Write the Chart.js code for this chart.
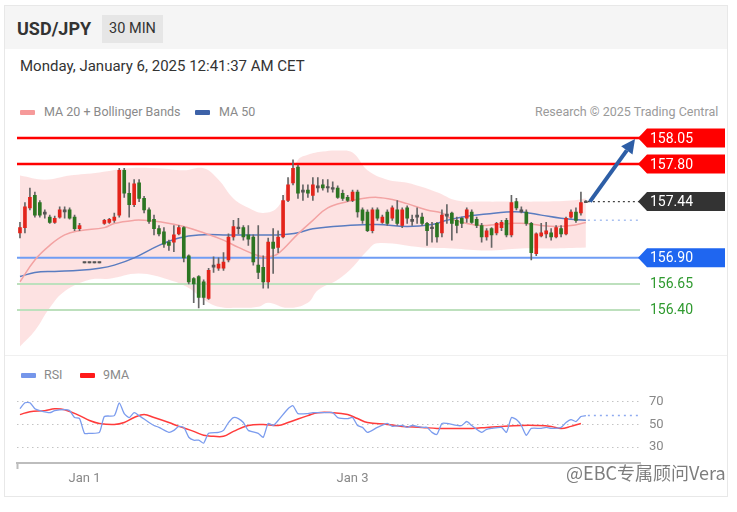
<!DOCTYPE html>
<html>
<head>
<meta charset="utf-8">
<script src="https://cdn.jsdelivr.net/npm/chart.js@4.4.1/dist/chart.umd.min.js"></script>
<style>
  body { margin: 0; background: #fff; font-family: Roboto, "Liberation Sans", Arial, sans-serif; }
  .abs { position: absolute; }
  #card { left: 4px; top: 5px; width: 724px; height: 492px; border: 1px solid #e8e8e8; box-sizing: border-box; }
  #head { left: 5px; top: 6px; width: 722px; height: 43px; background: #f5f5f5; }
  #title { left: 17px; top: 18px; font-size: 18px; font-weight: bold; color: #333; }
  #tf { left: 102px; top: 15px; width: 61px; height: 28px; background: #e6e6e6; color: #333; font-size: 14.5px; line-height: 28px; text-align: center; }
  #date { left: 20px; top: 57px; font-size: 15px; color: #333; }
  .leg { font-size: 12.5px; color: #8a8a8a; line-height: 14px; }
  .sw { width: 15px; height: 5px; border-radius: 1px; }
  #sep { left: 5px; top: 355px; width: 722px; height: 1px; background: #f0f0f0; }
  #wm { left: 566px; top: 459px; font-family: "Noto Sans CJK SC", sans-serif; font-size: 18px; color: #7d7d7d; text-shadow: 0 0 2px #fff, 0 0 2px #fff; }
</style>
</head>
<body>
<div id="card" class="abs"></div>
<div id="head" class="abs"></div>
<div id="title" class="abs">USD/JPY</div>
<div id="tf" class="abs">30 MIN</div>
<div id="date" class="abs">Monday, January 6, 2025 12:41:37 AM CET</div>

<div class="abs sw" style="left:20px;top:110px;background:#f69a9a"></div>
<div class="abs leg" style="left:44px;top:105px">MA 20 + Bollinger Bands</div>
<div class="abs sw" style="left:195px;top:110px;background:#3d62a8"></div>
<div class="abs leg" style="left:219px;top:105px">MA 50</div>
<div class="abs leg" style="left:535px;top:105px;color:#9a9a9a">Research © 2025 Trading Central</div>

<div id="sep" class="abs"></div>
<div class="abs sw" style="left:21px;top:373px;background:#7596ea"></div>
<div class="abs leg" style="left:44px;top:368px">RSI</div>
<div class="abs sw" style="left:80px;top:373px;background:#ff1a1a"></div>
<div class="abs leg" style="left:103px;top:368px">9MA</div>

<canvas id="price" class="abs" style="left:0;top:120px" width="737" height="236"></canvas>
<canvas id="rsi" class="abs" style="left:0;top:380px" width="737" height="110"></canvas>
<div id="wm" class="abs">@EBC专属顾问Vera</div>

<script>
// candles, 30 min, index 0 = first bar on the left
const open = [157.14,157.19,157.38,157.50,157.43,157.34,157.29,157.24,157.29,157.36,
  157.36,157.29,157.18,156.85,156.85,156.85,156.85,157.23,157.24,157.26,
  157.31,157.74,157.52,157.41,157.62,157.47,157.36,157.27,157.18,157.15,
  157.05,157.05,157.13,157.19,156.92,156.70,156.72,156.67,156.51,156.81,
  156.80,156.80,156.88,157.10,157.18,157.19,157.12,157.10,156.83,156.81,
  156.67,157.05,157.00,157.10,157.45,157.62,157.77,157.55,157.55,157.50,
  157.57,157.60,157.58,157.57,157.57,157.52,157.48,157.45,157.53,157.36,
  157.34,157.16,157.36,157.24,157.34,157.28,157.36,157.21,157.38,157.27,
  157.31,157.29,157.23,157.19,157.23,157.14,157.32,157.33,157.26,157.28,
  157.28,157.34,157.27,157.21,157.10,157.18,157.14,157.19,157.26,157.12,
  157.44,157.36,157.34,157.23,156.94,157.11,157.13,157.14,157.10,157.18,
  157.13,157.29,157.34,157.33,157.43];
const close = [157.19,157.39,157.48,157.31,157.31,157.32,157.24,157.28,157.36,157.34,
  157.28,157.18,157.21,156.86,156.86,156.86,156.86,157.26,157.27,157.29,
  157.74,157.52,157.41,157.61,157.47,157.36,157.25,157.18,157.13,157.03,
  157.02,157.12,157.19,156.90,156.67,156.65,156.52,156.52,156.78,156.83,
  156.84,156.86,157.10,157.20,157.19,157.10,157.08,156.86,156.76,156.67,
  157.05,156.99,157.10,157.45,157.60,157.76,157.52,157.53,157.52,157.60,
  157.59,157.57,157.57,157.56,157.48,157.47,157.45,157.53,157.34,157.26,
  157.16,157.36,157.28,157.29,157.23,157.38,157.23,157.36,157.28,157.25,
  157.29,157.23,157.16,157.18,157.10,157.31,157.30,157.23,157.21,157.23,
  157.36,157.24,157.21,157.10,157.16,157.12,157.23,157.24,157.12,157.43,
  157.38,157.34,157.23,156.95,157.13,157.14,157.16,157.10,157.19,157.13,
  157.28,157.34,157.26,157.43,157.44];
const high = [157.24,157.43,157.57,157.53,157.45,157.36,157.31,157.30,157.39,157.39,
  157.38,157.31,157.23,156.86,156.86,156.86,156.86,157.27,157.28,157.33,
  157.76,157.76,157.62,157.65,157.65,157.49,157.38,157.31,157.21,157.19,
  157.07,157.21,157.21,157.20,156.93,156.71,156.73,156.69,156.80,156.91,
  156.90,156.95,157.13,157.26,157.28,157.21,157.21,157.12,157.21,156.92,
  157.09,157.18,157.16,157.50,157.67,157.84,157.79,157.60,157.60,157.67,
  157.67,157.65,157.65,157.63,157.59,157.55,157.50,157.55,157.55,157.38,
  157.36,157.38,157.38,157.31,157.36,157.40,157.45,157.38,157.40,157.31,
  157.38,157.33,157.24,157.24,157.24,157.36,157.41,157.34,157.29,157.29,
  157.38,157.36,157.29,157.23,157.18,157.19,157.24,157.26,157.28,157.50,
  157.47,157.39,157.36,157.24,157.14,157.23,157.24,157.18,157.21,157.21,
  157.29,157.36,157.38,157.53,157.45];
const low = [157.09,157.14,157.36,157.29,157.29,157.28,157.23,157.23,157.28,157.28,
  157.27,157.16,157.16,156.85,156.85,156.85,156.85,157.22,157.23,157.24,
  157.29,157.48,157.29,157.39,157.44,157.33,157.23,157.12,157.11,157.00,
  156.97,156.96,157.12,156.86,156.65,156.47,156.42,156.45,156.50,156.76,
  156.78,156.78,156.86,157.07,157.13,157.07,157.02,156.83,156.70,156.61,
  156.61,156.75,156.95,157.09,157.44,157.60,157.47,157.45,157.48,157.45,
  157.53,157.55,157.53,157.53,157.47,157.45,157.44,157.44,157.29,157.23,
  157.15,157.14,157.26,157.23,157.21,157.26,157.21,157.19,157.23,157.21,
  157.23,157.21,157.02,157.05,157.05,157.10,157.23,157.07,157.14,157.19,
  157.24,157.23,157.19,157.05,157.07,157.00,157.12,157.16,157.10,157.10,
  157.36,157.33,157.21,156.88,156.92,157.10,157.09,157.07,157.09,157.10,
  157.12,157.28,157.24,157.31,157.43];

// indicators as [bar index, value]
const ma20 = [[0,156.67],[3,156.88],[6,157.02],[9,157.12],[12,157.16],[17,157.19],[19,157.23],
  [23,157.26],[25,157.26],[29,157.24],[33,157.20],[37,157.14],[41,157.07],[44,157.00],
  [48,156.92],[50,156.91],[52,156.94],[56,157.13],[59,157.26],[62,157.38],[66,157.44],
  [69,157.47],[72,157.48],[75,157.46],[78,157.42],[82,157.36],[85,157.33],[87,157.27],
  [90,157.23],[93,157.21],[96,157.22],[99,157.23],[102,157.23],[105,157.21],[108,157.20],
  [111,157.21],[114,157.24]];
const ma50 = [[0,156.72],[3,156.76],[7,156.77],[12,156.78],[16,156.80],[19,156.83],[23,156.90],
  [28,157.02],[32,157.09],[36,157.12],[42,157.12],[49,157.12],[52,157.12],[56,157.14],
  [59,157.18],[66,157.21],[72,157.22],[78,157.20],[83,157.22],[86,157.26],[90,157.30],
  [94,157.32],[98,157.34],[101,157.34],[105,157.31],[109,157.28],[114,157.26]];
const bandUpper = [[0,157.69],[5,157.65],[10,157.69],[16,157.72],[22,157.76],[28,157.76],
  [33,157.74],[37,157.76],[40,157.65],[43,157.47],[46,157.38],[49,157.33],[52,157.39],
  [54,157.62],[56,157.84],[58,157.89],[61,157.92],[64,157.93],[67,157.91],[70,157.74],
  [74,157.65],[78,157.62],[84,157.53],[88,157.45],[93,157.44],[99,157.44],[105,157.44],
  [111,157.45],[114,157.47]];
const bandLower = [[0,156.05],[3,156.20],[6,156.42],[9,156.58],[14,156.69],[18,156.70],
  [24,156.75],[30,156.69],[34,156.61],[37,156.50],[40,156.43],[44,156.42],[48,156.43],
  [50,156.47],[54,156.42],[58,156.47],[60,156.59],[64,156.69],[67,156.81],[70,156.97],
  [72,157.04],[81,157.00],[87,156.99],[94,156.97],[101,156.99],[107,156.99],[114,157.00]];

const resistance = [158.05, 157.80];
const support = [156.90, 156.65, 156.40];

const rsi = [[0,63.9],[1,69.1],[2,69.1],[3,63.9],[4,62.2],[6,60.4],[7,62.2],[9,63.0],[10,62.2],
  [11,56.1],[12,55.2],[13,42.2],[14,42.2],[16,43.0],[17,57.0],[19,57.8],[20,69.1],[21,59.6],
  [22,56.1],[23,60.4],[24,57.8],[26,51.7],[27,49.1],[28,47.4],[30,43.0],[31,44.8],[32,48.3],
  [33,47.4],[34,38.7],[35,36.1],[36,36.1],[37,33.5],[38,42.2],[40,43.0],[41,44.8],[42,51.7],
  [43,56.1],[44,55.2],[45,51.7],[46,44.8],[48,42.2],[49,38.7],[50,50.9],[51,49.1],[52,53.5],
  [54,63.9],[55,66.5],[56,59.6],[58,59.6],[59,60.4],[61,60.4],[63,60.4],[64,56.1],[66,55.2],
  [67,56.1],[68,49.1],[69,47.4],[70,43.0],[72,47.4],[74,50.9],[75,48.3],[77,49.1],[78,47.4],
  [79,49.1],[81,47.4],[82,47.4],[83,43.0],[84,41.3],[85,50.9],[86,50.9],[88,49.1],[89,49.1],
  [90,52.6],[91,49.1],[93,43.0],[94,45.7],[95,46.5],[97,47.4],[98,43.0],[99,56.1],[100,54.3],
  [101,49.1],[102,40.4],[103,46.5],[105,46.5],[106,47.4],[107,46.5],[109,47.4],[110,51.7],
  [111,54.3],[112,52.6],[113,57.0],[114,57.8]];
const rsiMa = [[0,58.7],[2,61.3],[5,62.2],[7,63.9],[9,63.0],[12,57.8],[14,53.5],[16,50.9],
  [19,50.0],[21,51.7],[23,56.1],[25,58.7],[27,56.1],[30,51.7],[32,48.3],[35,43.9],[37,40.4],
  [39,39.6],[41,39.6],[43,43.9],[46,49.1],[49,50.0],[52,49.1],[54,51.7],[58,57.8],[60,60.4],
  [63,60.4],[66,58.7],[68,55.2],[70,51.7],[74,50.0],[77,48.3],[81,47.4],[84,46.5],[87,46.5],
  [91,46.5],[94,47.4],[97,48.3],[101,49.1],[104,49.1],[107,48.3],[109,46.5],[111,48.3],[113,50.9]];
const rsiTicks = [30, 50, 70];

const dateTickIdx = [13, 67];
const dateTickLabels = ["Jan 1", "Jan 3"];

// x range (in bar index units) shared by both panels
const xMin = -0.6, xMax = 124.9;
const last = close.length - 1;

Chart.defaults.font.family = "Roboto, 'Liberation Sans', Arial, sans-serif";

const pts = arr => arr.map(p => ({ x: p[0], y: p[1] }));
const flat = (v, from) => [{ x: from, y: v }, { x: xMax, y: v }];

const bodyColors = open.map((o, i) => {
  const d = close[i] - o;
  if (Math.abs(d) < 0.025) return "#555";
  return d > 0 ? "#e3241b" : "#2c7522";
});

const levelLine = (v, color, w, order) => ({
  type: "line", data: flat(v, xMin), borderColor: color, borderWidth: w,
  pointRadius: 0, order: order
});

const tagPlugin = {
  id: "tags",
  afterDatasetsDraw(chart) {
    const { ctx, chartArea, scales } = chart;
    const y = scales.y, x = scales.x;
    function tag(v, color) {
      const py = y.getPixelForValue(v), px = chartArea.right - 2, h = 19, w = 87;
      ctx.save();
      ctx.fillStyle = color;
      ctx.beginPath();
      ctx.moveTo(px, py);
      ctx.lineTo(px + 9, py - h / 2);
      ctx.lineTo(px + w, py - h / 2);
      ctx.lineTo(px + w, py + h / 2);
      ctx.lineTo(px + 9, py + h / 2);
      ctx.closePath();
      ctx.fill();
      ctx.fillStyle = "#fff";
      ctx.font = "14px Roboto";
      ctx.textBaseline = "middle";
      ctx.fillText(v.toFixed(2), px + 12, py + 1);
      ctx.restore();
    }
    resistance.forEach(v => tag(v, "#ff0000"));
    tag(close[last], "#333333");
    tag(support[0], "#1f66f0");
    support.slice(1).forEach(v => {
      ctx.save();
      ctx.fillStyle = "#2f9a2f";
      ctx.font = "14px Roboto";
      ctx.textBaseline = "middle";
      ctx.fillText(v.toFixed(2), chartArea.right + 10, y.getPixelForValue(v) + 1);
      ctx.restore();
    });

    // projection arrow from last close up to the first resistance
    const x0 = x.getPixelForValue(last) + 4, y0 = y.getPixelForValue(close[last]);
    const x1 = chartArea.right - 5, y1 = y.getPixelForValue(resistance[0]) + 1;
    const ang = Math.atan2(y1 - y0, x1 - x0), hl = 14, hw = 7;
    const bx = x1 - hl * Math.cos(ang), by = y1 - hl * Math.sin(ang);
    ctx.save();
    ctx.strokeStyle = "#2d5ea6";
    ctx.fillStyle = "#2d5ea6";
    ctx.lineWidth = 4;
    ctx.beginPath();
    ctx.moveTo(x0, y0);
    ctx.lineTo(bx, by);
    ctx.stroke();
    ctx.beginPath();
    ctx.moveTo(x1, y1);
    ctx.lineTo(bx + hw * Math.sin(ang), by - hw * Math.cos(ang));
    ctx.lineTo(bx - hw * Math.sin(ang), by + hw * Math.cos(ang));
    ctx.closePath();
    ctx.fill();
    ctx.restore();
  }
};

new Chart(document.getElementById("price"), {
  type: "bar",
  data: {
    datasets: [
      { type: "bar", data: open.map((o, i) => ({ x: i, y: [o, close[i]] })),
        backgroundColor: bodyColors, borderWidth: 0, barThickness: 3, minBarLength: 1.5,
        grouped: false, order: 0 },
      { type: "bar", data: low.map((l, i) => ({ x: i, y: [l, high[i]] })),
        backgroundColor: "#666", borderWidth: 0, barThickness: 1, grouped: false, order: 1 },
      { type: "line", data: pts(ma20), borderColor: "#f3a3a3", borderWidth: 1.5,
        pointRadius: 0, tension: 0.4, order: 2 },
      { type: "line", data: pts(ma50), borderColor: "#5a7cc0", borderWidth: 1.5,
        pointRadius: 0, tension: 0.4, order: 3 },
      { type: "line", data: flat(close[last], last + 0.4), borderColor: "#444", borderWidth: 1.2,
        borderDash: [2, 3], pointRadius: 0, order: 2 },
      { type: "line", data: flat(ma50[ma50.length - 1][1], last + 0.4), borderColor: "#a9c0f0",
        borderWidth: 1.5, borderDash: [2, 4], pointRadius: 0, order: 2 },
      levelLine(resistance[0], "#ff0000", 2.5, 4),
      levelLine(resistance[1], "#ff0000", 2.5, 4),
      levelLine(support[0], "#6f9df4", 2, 4),
      levelLine(support[1], "#bde0bd", 2, 4),
      levelLine(support[2], "#bde0bd", 2, 4),
      { type: "line", data: pts(bandUpper), borderColor: "transparent", borderWidth: 0,
        pointRadius: 0, tension: 0.4, fill: "+1", backgroundColor: "rgba(250,178,178,0.38)", order: 5 },
      { type: "line", data: pts(bandLower), borderColor: "transparent", borderWidth: 0,
        pointRadius: 0, tension: 0.4, fill: false, order: 6 }
    ]
  },
  options: {
    responsive: false,
    animation: false,
    layout: { padding: { left: 17, right: 97, top: 7.6, bottom: 4.4 } },
    scales: {
      x: { type: "linear", display: false, min: xMin, max: xMax, offset: false },
      y: { type: "linear", display: false, min: 156.0, max: 158.15 }
    },
    plugins: { legend: { display: false }, tooltip: { enabled: false } }
  },
  plugins: [tagPlugin]
});

new Chart(document.getElementById("rsi"), {
  type: "line",
  data: {
    datasets: [
      { data: pts(rsi), borderColor: "#7b9cee", borderWidth: 1.3, pointRadius: 0, tension: 0.2 },
      { data: pts(rsiMa), borderColor: "#ff3b3b", borderWidth: 1.5, pointRadius: 0, tension: 0.4 },
      { data: flat(rsi[rsi.length - 1][1], last + 0.4), borderColor: "#8eaaf0", borderWidth: 1.5,
        borderDash: [2, 4], pointRadius: 0 }
    ]
  },
  options: {
    responsive: false,
    animation: false,
    layout: { padding: { left: 17, right: 0, top: 4, bottom: 0 } },
    scales: {
      x: {
        type: "linear", min: xMin, max: xMax,
        afterBuildTicks: s => { s.ticks = [xMin].concat(dateTickIdx, [xMax]).map(v => ({ value: v })); },
        afterFit: s => { s.height = 27; },
        border: { color: "#bdbdbd", width: 2 },
        grid: {
          drawOnChartArea: false, drawTicks: true, tickLength: 6, tickWidth: 2,
          tickColor: c => (c.tick && (c.tick.value === xMin || c.tick.value === xMax)) ? "#bdbdbd" : "rgba(0,0,0,0)"
        },
        ticks: {
          autoSkip: false, maxRotation: 0, padding: 2, color: "#888", font: { size: 13 },
          callback: v => { const k = dateTickIdx.indexOf(v); return k >= 0 ? dateTickLabels[k] : ""; }
        }
      },
      y: {
        position: "right", min: 16, max: 74.4,
        afterBuildTicks: s => { s.ticks = rsiTicks.map(v => ({ value: v })); },
        afterFit: s => { s.width = 97; },
        border: { display: false, dash: [1.5, 3.5] },
        grid: { color: "#c4c4c4", drawTicks: false },
        ticks: { padding: 9, color: "#888", font: { size: 13 } }
      }
    },
    plugins: { legend: { display: false }, tooltip: { enabled: false } }
  }
});
</script>
</body>
</html>
